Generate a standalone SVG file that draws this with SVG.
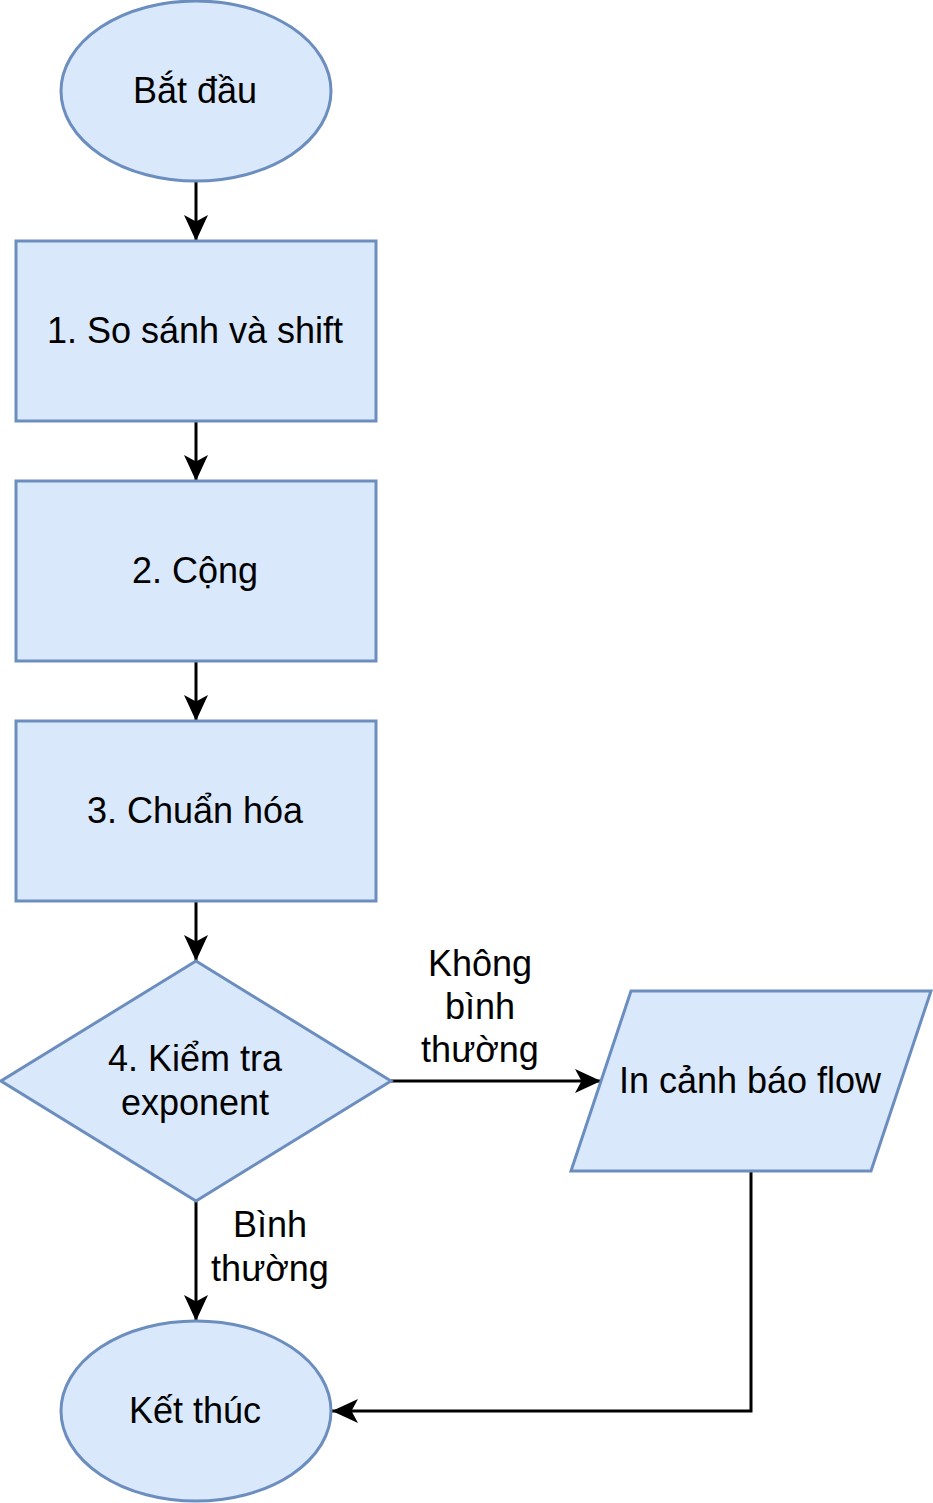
<svg xmlns="http://www.w3.org/2000/svg" width="933" height="1503" viewBox="0 0 933 1503">
<style>
.shape{fill:#dae8fc;stroke:#6c8ebf;stroke-width:3}
.edge{fill:none;stroke:#000;stroke-width:3}
text{font-family:"Liberation Sans",Arial,sans-serif;font-size:36px;fill:#000;text-anchor:middle}
</style>
<defs>
<marker id="arr" markerUnits="userSpaceOnUse" viewBox="0 0 27 26" markerWidth="27" markerHeight="26" refX="26" refY="13" orient="auto">
<path d="M26,13 L0,1 L6.5,13 L0,25 Z" fill="#000"/>
</marker>
</defs>
<rect width="933" height="1503" fill="#fff"/>
<g id="connectors">
<line class="edge" x1="196" y1="181" x2="196" y2="241" marker-end="url(#arr)"/>
<line class="edge" x1="196" y1="421" x2="196" y2="481" marker-end="url(#arr)"/>
<line class="edge" x1="196" y1="661" x2="196" y2="721" marker-end="url(#arr)"/>
<line class="edge" x1="196" y1="901" x2="196" y2="961" marker-end="url(#arr)"/>
<line class="edge" x1="391" y1="1081" x2="601" y2="1081" marker-end="url(#arr)"/>
<line class="edge" x1="196" y1="1201" x2="196" y2="1321" marker-end="url(#arr)"/>
<path class="edge" d="M751,1171 L751,1411 L332,1411" marker-end="url(#arr)"/>
<g id="label-khong">
<text x="480" y="976">Không</text>
<text x="480" y="1019">bình</text>
<text x="480" y="1062">thường</text>
</g>
<g id="label-binh">
<text x="270" y="1237">Bình</text>
<text x="270" y="1281">thường</text>
</g>
</g>
<g id="start">
<ellipse class="shape" cx="196" cy="91" rx="135" ry="90"/>
<text x="195" y="103">Bắt đầu</text>
</g>
<g id="step1">
<rect class="shape" x="16" y="241" width="360" height="180"/>
<text x="195" y="343">1. So sánh và shift</text>
</g>
<g id="step2">
<rect class="shape" x="16" y="481" width="360" height="180"/>
<text x="195" y="583">2. Cộng</text>
</g>
<g id="step3">
<rect class="shape" x="16" y="721" width="360" height="180"/>
<text x="195" y="823">3. Chuẩn hóa</text>
</g>
<g id="decision">
<polygon class="shape" points="196,961 391,1081 196,1201 1,1081"/>
<text x="195" y="1071">4. Kiểm tra</text>
<text x="195" y="1115">exponent</text>
</g>
<g id="warn">
<polygon class="shape" points="631,991 931,991 871,1171 571,1171"/>
<text x="750" y="1093">In cảnh báo flow</text>
</g>
<g id="end">
<ellipse class="shape" cx="196" cy="1411" rx="135" ry="90"/>
<text x="195" y="1423">Kết thúc</text>
</g>
</svg>
